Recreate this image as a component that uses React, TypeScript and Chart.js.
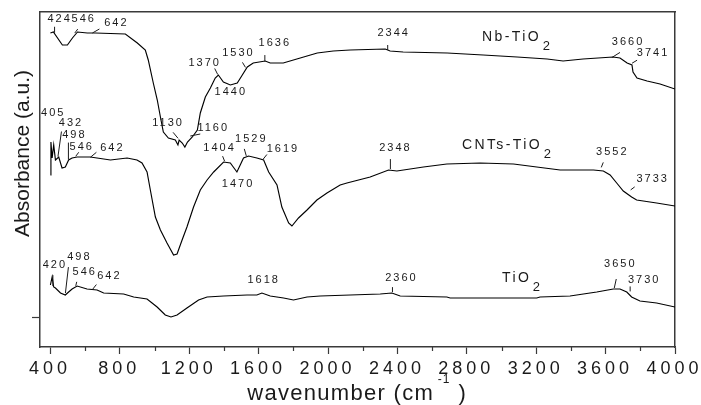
import React, { useEffect, useRef } from 'react';
import { Chart, registerables } from 'chart.js';

Chart.register(...registerables);

// ---------------- data ----------------
const xMajorTicks = [400, 800, 1200, 1600, 2000, 2400, 2800, 3200, 3600, 4000];
const xMinorTicks = [600, 1000, 1400, 1800, 2200, 2600, 3000, 3400, 3800];
const yTicks = [0];

const xTitleMain = 'wavenumber (cm';
const xTitleSup = '-1';
const xTitleEnd = ')';
const yTitle = 'Absorbance (a.u.)';

const seriesNames = ['Nb-TiO', 'CNTs-TiO', 'TiO'];
const seriesSubscripts = ['2', '2', '2'];

const nbWavenumber = [400, 417, 469, 498, 527, 556, 613, 659, 832, 901, 947, 964, 993, 1016, 1034, 1051, 1080, 1120, 1135, 1142, 1160, 1175, 1190, 1218, 1247, 1264, 1293, 1322, 1350, 1368, 1397, 1437, 1477, 1506, 1535, 1569, 1638, 1667, 1742, 1840, 1938, 2030, 2128, 2330, 2358, 2433, 2687, 2894, 3090, 3263, 3355, 3470, 3643, 3683, 3724, 3752, 3758, 3781, 3839, 3914, 4000];
const nbAbsorbance = [284, 285, 272, 272, 279, 285, 284, 284, 283, 274, 267, 257, 234, 217, 200, 185, 179, 177, 172, 177, 174, 170, 175, 180, 187, 204, 220, 229, 239, 242, 235, 232, 234, 242, 250, 254, 256, 254, 254, 259, 264, 266, 267, 268, 266, 265, 264, 262, 260, 258, 256, 258, 260, 259, 254, 252, 245, 239, 236, 233, 228];

const cntWavenumber = [400, 403, 410, 419, 429, 448, 467, 486, 505, 525, 554, 630, 746, 842, 899, 928, 957, 976, 1005, 1034, 1072, 1110, 1130, 1159, 1187, 1225, 1264, 1303, 1341, 1398, 1437, 1475, 1494, 1513, 1542, 1590, 1629, 1658, 1706, 1734, 1773, 1792, 1830, 1879, 1936, 1994, 2070, 2109, 2243, 2349, 2397, 2550, 2685, 2877, 3069, 3203, 3338, 3530, 3587, 3626, 3664, 3702, 3750, 3779, 3894, 4000];
const cntAbsorbance = [142, 175, 159, 172, 157, 160, 149, 150, 157, 159, 160, 160, 157, 159, 157, 154, 145, 127, 100, 87, 74, 62, 63, 77, 90, 110, 127, 137, 145, 155, 154, 145, 152, 159, 161, 159, 157, 145, 132, 110, 94, 91, 99, 107, 117, 124, 132, 134, 140, 147, 146, 150, 153, 154, 153, 150, 147, 147, 146, 142, 134, 126, 120, 117, 114, 111];

const tioWavenumber = [400, 410, 419, 429, 458, 486, 505, 525, 554, 611, 669, 707, 822, 880, 957, 1015, 1062, 1095, 1130, 1187, 1254, 1303, 1398, 1533, 1590, 1619, 1667, 1744, 1801, 1879, 1955, 2128, 2301, 2368, 2416, 2685, 2704, 3203, 3222, 3395, 3472, 3549, 3645, 3683, 3722, 3750, 3798, 3894, 4000];
const tioAbsorbance = [32, 40, 30, 29, 24, 22, 25, 28, 31, 28, 27, 24, 23, 20, 18, 10, 2, 0, 2, 9, 17, 20, 21, 22, 22, 24, 21, 19, 17, 20, 21, 22, 23, 24, 21, 20, 19, 19, 20, 21, 23, 25, 28, 28, 25, 20, 16, 14, 10];

const nbPeaks = [424, 546, 642, 1130, 1160, 1370, 1440, 1530, 1636, 2344, 3660, 3741];
const cntPeaks = [405, 432, 498, 546, 642, 1404, 1470, 1529, 1619, 2348, 3552, 3733];
const tioPeaks = [420, 498, 546, 642, 1618, 2360, 3650, 3730];

// ---------------- layout / style (pixel offsets from the curve point) ----------------
// [labelDx, labelDy, leaderStartDx, leaderStartDy, leaderEndDx, leaderEndDy]
const nbPlacement = [
  [4, -15, 0, -1, 0, -7], [7, -15, -1, -1, 2, -5], [23, -10, 0, 0, 7, -4],
  [-10, -20, 1, -5, -4, -11], [30, -15, 8, -7, 18, -9], [-15, -13, -1, -1, -4, -7],
  [-1, 7], [-9, -15, -1, -1, -4, -6], [9, -18, 0, 0, 0, -6],
  [5, -17, 0, 0, 0, -5], [11, -15, -4, 0, 4, -5], [22, -11, 2, -1, 7, -4],
];
const cntPlacement = [
  [1, -34], [14, -37, 2, -3, 5.5, -28], [6, -28, 1, -3, 1, -20],
  [5, -10, 0, -1, 3, -5], [19, -9, -2, 0, 4, -5], [-6, -14, 0, -1, -2, -6],
  [1, 13], [4, -18, 0, -1, -2, -8], [20, -11, 1, 0, 5, -5],
  [6, -22, 2, -1, 2, -11], [14, -18, 4, -3, 6, -8], [23, -16, 2, -5, 6, -8],
];
const tioPlacement = [
  [0, -22, -1, -1, -1, -12], [11, -36, -2, 0, 1, -26], [8, -15, 0, -1, 1, -5],
  [16, -14, 0, 0, 4, -5], [1, -13], [10, -15, 2, -1, 2, -6],
  [5, -25, 0, -1, 2, -10], [15, -13, 2, -2, 2, -7],
];
// series name anchors in data units [wavenumber, absorbance] (left, baseline)
const nameAnchors = [[2888, 276], [2772, 168], [3003, 35]];

const FONT = '"Liberation Sans", Arial, Helvetica, sans-serif';
const AXIS = '#3a3a3a';
const INK = '#1a1a1a';

function interp(xs: number[], ys: number[], x: number) {
  for (let i = 1; i < xs.length; i++) {
    if (x <= xs[i]) {
      const t = (x - xs[i - 1]) / (xs[i] - xs[i - 1]);
      return ys[i - 1] + t * (ys[i] - ys[i - 1]);
    }
  }
  return ys[ys.length - 1];
}

function spacedText(ctx: any, text: string, x: number, y: number, spacing: number, align: 'left' | 'center') {
  ctx.letterSpacing = spacing + 'px';
  const w = ctx.measureText(text).width - spacing;
  ctx.textAlign = 'left';
  const left = align === 'center' ? x - w / 2 : x;
  ctx.fillText(text, left, y);
  ctx.letterSpacing = '0px';
  return left + w;
}

const textPlugin = {
  id: 'ftirText',
  beforeDraw(chart: any) {
    chart.ctx.letterSpacing = '0px';
  },
  afterDraw(chart: any) {
    const { ctx, chartArea } = chart;
    const sx = chart.scales.x;
    const sy = chart.scales.y;
    ctx.save();

    // minor ticks
    ctx.strokeStyle = AXIS;
    ctx.lineWidth = 1.2;
    ctx.beginPath();
    xMinorTicks.forEach((v) => {
      const p = Math.round(sx.getPixelForValue(v)) + 0.5;
      ctx.moveTo(p, chartArea.bottom);
      ctx.lineTo(p, chartArea.bottom + 4);
    });
    ctx.stroke();

    // x tick labels
    ctx.fillStyle = INK;
    ctx.font = `18px ${FONT}`;
    ctx.textBaseline = 'middle';
    xMajorTicks.forEach((v) => {
      spacedText(ctx, String(v), sx.getPixelForValue(v) - 2.5, chartArea.bottom + 22, 4, 'center');
    });

    // x title
    const mainSp = 1.3;
    ctx.textBaseline = 'alphabetic';
    ctx.font = `22px ${FONT}`;
    ctx.letterSpacing = mainSp + 'px';
    const wMain = ctx.measureText(xTitleMain).width - mainSp;
    const wEnd = ctx.measureText(xTitleEnd).width - mainSp;
    ctx.font = `12px ${FONT}`;
    ctx.letterSpacing = '1px';
    const wSup = ctx.measureText(xTitleSup).width - 1;
    const total = wMain + 5 + wSup + 9 + wEnd;
    const cx = (chartArea.left + chartArea.right) / 2 - 1;
    const base = chartArea.bottom + 53;
    let xx = cx - total / 2;
    ctx.font = `22px ${FONT}`;
    ctx.letterSpacing = mainSp + 'px';
    ctx.textAlign = 'left';
    ctx.fillText(xTitleMain, xx, base);
    xx += wMain + 5;
    ctx.font = `12px ${FONT}`;
    ctx.letterSpacing = '1px';
    ctx.fillText(xTitleSup, xx, base - 17);
    xx += wSup + 9;
    ctx.font = `22px ${FONT}`;
    ctx.letterSpacing = mainSp + 'px';
    ctx.fillText(xTitleEnd, xx, base);
    ctx.letterSpacing = '0px';

    // y title
    ctx.save();
    ctx.translate(chartArea.left - 17, (chartArea.top + chartArea.bottom) / 2 - 26);
    ctx.rotate(-Math.PI / 2);
    ctx.font = `21px ${FONT}`;
    ctx.textAlign = 'center';
    ctx.textBaseline = 'middle';
    ctx.fillText(yTitle, 0, 0);
    ctx.restore();

    // peak annotations
    const groups = [
      { xs: nbWavenumber, ys: nbAbsorbance, peaks: nbPeaks, place: nbPlacement },
      { xs: cntWavenumber, ys: cntAbsorbance, peaks: cntPeaks, place: cntPlacement },
      { xs: tioWavenumber, ys: tioAbsorbance, peaks: tioPeaks, place: tioPlacement },
    ];
    ctx.font = `11px ${FONT}`;
    ctx.textBaseline = 'middle';
    ctx.strokeStyle = INK;
    ctx.lineWidth = 1;
    groups.forEach((g) => {
      g.peaks.forEach((w, i) => {
        const pl = g.place[i];
        const px = sx.getPixelForValue(w);
        const py = sy.getPixelForValue(interp(g.xs, g.ys, w));
        if (pl.length >= 6) {
          ctx.beginPath();
          ctx.moveTo(px + pl[2], py + pl[3]);
          ctx.lineTo(px + pl[4], py + pl[5]);
          ctx.stroke();
        }
        spacedText(ctx, String(w), px + pl[0], py + pl[1], 2, 'center');
      });
    });

    // series names
    ctx.textBaseline = 'alphabetic';
    seriesNames.forEach((name, i) => {
      const [aw, av] = nameAnchors[i];
      const lx = sx.getPixelForValue(aw);
      const ly = sy.getPixelForValue(av);
      ctx.font = `14px ${FONT}`;
      const end = spacedText(ctx, name, lx, ly, 2.4, 'left');
      ctx.font = `13px ${FONT}`;
      ctx.fillText(seriesSubscripts[i], end + 4, ly + 8.6);
    });

    ctx.restore();
  },
};

function toPoints(xs: number[], ys: number[]) {
  return xs.map((x, i) => ({ x, y: ys[i] }));
}

export default function App() {
  const ref = useRef<HTMLCanvasElement>(null);

  useEffect(() => {
    const canvas = ref.current;
    if (!canvas) return;
    const lineDs = (label: string, xs: number[], ys: number[]) => ({
      label,
      data: toPoints(xs, ys),
      borderColor: '#000',
      borderWidth: 1.15,
      pointRadius: 0,
      tension: 0,
      fill: false,
    });
    const chart = new Chart(canvas, {
      type: 'line',
      data: {
        datasets: [
          lineDs('Nb-TiO2', nbWavenumber, nbAbsorbance),
          lineDs('CNTs-TiO2', cntWavenumber, cntAbsorbance),
          lineDs('TiO2', tioWavenumber, tioAbsorbance),
        ],
      },
      options: {
        responsive: false,
        animation: false,
        devicePixelRatio: 1,
        layout: { padding: { left: 32, top: 12, right: 26, bottom: 51 } },
        plugins: { legend: { display: false }, tooltip: { enabled: false } },
        scales: {
          x: {
            type: 'linear',
            position: 'bottom',
            min: 340,
            max: 4000,
            afterBuildTicks: (s: any) => {
              s.ticks = xMajorTicks.map((v) => ({ value: v }));
            },
            ticks: { display: false },
            grid: { drawOnChartArea: false, tickLength: 7, tickColor: AXIS, tickWidth: 1.2 },
            border: { color: AXIS, width: 1.5 },
          },
          y: {
            type: 'linear',
            position: 'left',
            min: -30,
            max: 305,
            afterBuildTicks: (s: any) => {
              s.ticks = yTicks.map((v) => ({ value: v }));
            },
            ticks: { display: false },
            grid: { drawOnChartArea: false, tickLength: 8, tickColor: AXIS, tickWidth: 1.2 },
            border: { color: AXIS, width: 1.5 },
          },
          xTop: {
            type: 'linear',
            position: 'top',
            min: 0,
            max: 1,
            ticks: { display: false },
            grid: { display: false, drawTicks: false },
            border: { color: AXIS, width: 1.5 },
          },
          yRight: {
            type: 'linear',
            position: 'right',
            min: 0,
            max: 1,
            ticks: { display: false },
            grid: { display: false, drawTicks: false },
            border: { color: AXIS, width: 1.5 },
          },
        },
      } as any,
      plugins: [textPlugin as any],
    });
    return () => chart.destroy();
  }, []);

  return (
    <div style={{ position: 'fixed', left: 0, top: 0, width: 701, height: 405, background: '#fff' }}>
      <canvas ref={ref} width={701} height={405} style={{ display: 'block', width: 701, height: 405 }} />
    </div>
  );
}
